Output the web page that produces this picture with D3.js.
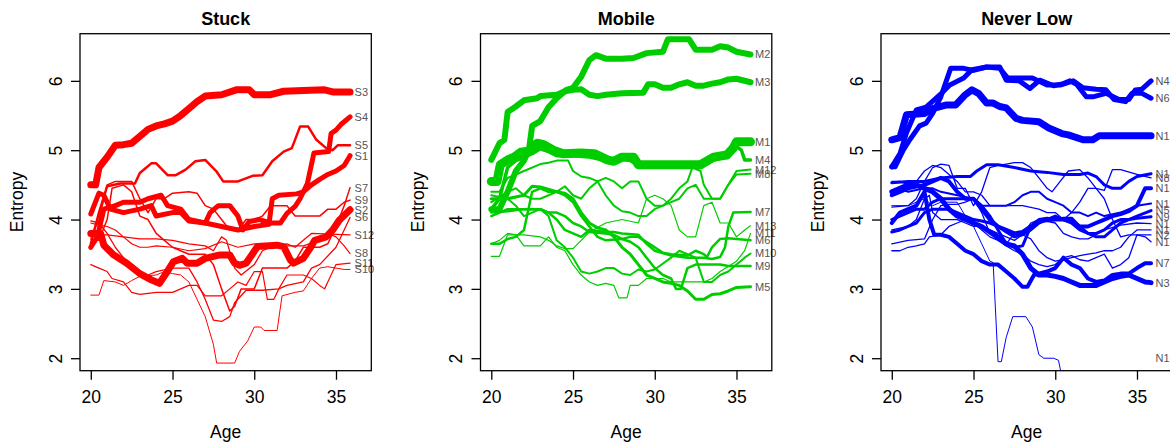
<!DOCTYPE html>
<html lang="en">
<head>
<meta charset="utf-8">
<title>Entropy by age: Stuck, Mobile, Never Low</title>
<script src="https://cdnjs.cloudflare.com/ajax/libs/d3/7.8.5/d3.min.js"></script>
<style>
body { margin: 0; background: #fff; }
text { font-family: "Liberation Sans", Arial, Helvetica, sans-serif; }
</style>
</head>
<body>
<script>
// ---- data -------------------------------------------------------------
var panelTitles = ["Stuck", "Mobile", "Never Low"];
var panelColors = ["#ff0000", "#00cd00", "#0000ff"];
var xTicks = [20, 25, 30, 35];
var yTicks = [2, 3, 4, 5, 6];

// each line: [age, entropy] knots
var stuckNames = ["S1","S2","S3","S4","S5","S6","S7","S8","S9","S10","S11","S12"];
var stuckLwd = [5, 7, 7, 5, 2.5, 1.3, 1.5, 1.2, 1.5, 1, 1.2, 1.3];
var stuckLines = [
  [[20,4.08],[20.5,4.38],[20.8,4.35],[21.2,4.15],[22,4.1],[23,4.15],[23.7,4.2],[24,4.05],[25,4.1],[25.5,4.1],[26,3.98],[27,3.95],[28,3.9],[29,3.85],[30,3.9],[30.9,3.93],[31.1,4.3],[31.5,4.35],[32.6,4.37],[33,4.4],[33.5,4.5],[34,4.58],[34.5,4.65],[35,4.7],[35.5,4.78],[35.86,4.92]],
  [[20,3.8],[20.6,3.8],[20.8,3.63],[21.4,3.49],[22.2,3.37],[23,3.22],[23.7,3.13],[24.2,3.08],[24.6,3.22],[25.05,3.39],[25.6,3.44],[25.9,3.37],[26.5,3.37],[27,3.44],[27.9,3.49],[28.5,3.49],[28.8,3.37],[29.1,3.34],[29.5,3.37],[30.2,3.61],[31.4,3.63],[31.8,3.61],[32.2,3.42],[32.4,3.37],[33,3.44],[33.4,3.58],[33.7,3.7],[34.4,3.75],[34.8,3.85],[35.2,3.99],[35.86,4.14]],
  [[20,4.5],[20.3,4.5],[20.5,4.75],[21,4.9],[21.5,5.07],[22,5.08],[22.5,5.1],[23,5.2],[23.5,5.3],[24,5.35],[24.5,5.38],[25,5.42],[25.5,5.5],[26,5.6],[26.5,5.7],[27,5.78],[28,5.8],[28.9,5.87],[29.7,5.87],[30,5.8],[31,5.8],[31.8,5.85],[33,5.86],[34.3,5.87],[34.8,5.84],[35.86,5.84]],
  [[20,3.6],[20.4,3.75],[20.8,4.15],[21.5,4.2],[22,4.25],[23,4.25],[23.5,4.3],[24.3,4.35],[24.7,4.2],[25.5,4.15],[26,4.0],[27,3.95],[27.3,4.1],[27.8,4.2],[28.5,4.2],[29,4.05],[29.3,3.85],[29.7,3.97],[30.3,4.0],[31,3.95],[31.6,3.95],[32,4.09],[32.5,4.19],[32.8,4.3],[33.25,4.52],[33.65,4.96],[34.55,4.98],[34.7,5.24],[35,5.29],[35.3,5.37],[35.86,5.48]],
  [[20,3.65],[20.5,4.1],[21,4.48],[21.8,4.52],[22.7,4.52],[23,4.67],[23.7,4.81],[24,4.81],[24.7,4.64],[25.2,4.64],[25.8,4.72],[26.4,4.84],[27,4.86],[27.7,4.69],[28.1,4.55],[29,4.55],[29.9,4.63],[30.5,4.64],[31.1,4.84],[31.8,4.98],[32.3,5.03],[32.8,5.34],[33.3,5.34],[33.8,5.15],[34.4,5.03],[34.8,5.0],[35.1,5.07],[35.86,5.07]],
  [[20,3.98],[20.5,3.95],[21,3.8],[21.5,3.6],[22,3.45],[22.5,3.3],[23,3.2],[23.5,3.2],[24,3.25],[25,3.3],[26,3.3],[26.5,3.1],[27,2.85],[27.5,2.55],[28,2.53],[28.5,2.6],[28.8,2.8],[29.5,2.98],[30.5,2.98],[31.5,3.0],[32,3.05],[33,3.1],[33.5,3.3],[34,3.35],[35,3.6],[35.5,3.85],[35.86,4.03]],
  [[20,3.72],[20.5,3.7],[21,4.0],[21.3,4.45],[22,4.5],[22.5,4.4],[23,4.05],[23.5,4.0],[24,3.8],[24.5,3.7],[25,3.6],[26,3.5],[27,3.5],[27.5,3.35],[28,3.0],[28.5,2.68],[28.8,2.75],[29.2,3.0],[30,3.0],[30.5,3.3],[31,3.3],[32,3.3],[32.5,3.4],[33,3.6],[34,3.6],[34.5,3.65],[35,3.9],[35.5,4.2],[35.86,4.46]],
  [[20,3.95],[20.5,3.92],[21,3.9],[21.5,3.85],[22,3.75],[22.5,3.65],[23,3.6],[23.5,3.6],[24,3.62],[25,3.6],[26,3.55],[27,3.58],[28,3.68],[29,3.6],[30,3.65],[31,3.65],[32,3.62],[33,3.62],[34,3.7],[34.5,3.8],[35,3.75],[35.5,3.62],[35.86,3.51]],
  [[20,3.75],[20.5,4.0],[21,4.5],[21.5,4.55],[22.5,4.55],[23,4.3],[23.5,4.1],[24,4.3],[24.5,4.3],[25,4.38],[26,4.4],[26.5,4.38],[27,4.2],[27.5,4.15],[28,4.0],[28.5,3.85],[29,3.85],[29.5,4.0],[30,4.0],[30.5,4.05],[31,4.2],[32,4.2],[32.5,4.05],[33,4.05],[34,4.05],[34.5,4.15],[35,4.15],[35.5,4.25],[35.86,4.28]],
  [[20,2.91],[20.5,2.91],[20.8,3.12],[21.5,3.1],[22,3.05],[22.5,3.12],[23,3.18],[24,3.2],[24.5,3.25],[25,3.22],[25.5,3.2],[26,3.1],[26.5,2.85],[27,2.6],[27.5,2.2],[27.7,1.93],[28.8,1.93],[29.1,2.1],[29.6,2.25],[30,2.45],[30.4,2.45],[30.6,2.4],[31.4,2.4],[31.7,2.9],[32.5,2.95],[33,2.97],[33.5,3.15],[34,3.3],[34.5,3.32],[35,3.3],[35.5,3.28],[35.86,3.28]],
  [[20,3.35],[20.5,3.3],[21,3.25],[21.3,3.15],[22,3.1],[22.5,2.95],[23,2.92],[24,2.95],[25,2.95],[25.5,3.0],[26,3.05],[26.5,3.05],[27,2.9],[28,2.9],[28.5,3.0],[29,3.1],[29.5,3.05],[30,3.25],[30.5,3.25],[30.8,2.85],[31.2,2.85],[31.5,3.0],[32,3.2],[33,3.2],[33.5,3.15],[34,3.05],[34.3,3.0],[34.6,3.15],[35,3.35],[35.86,3.37]],
  [[20,3.78],[21,3.78],[22,3.75],[23,3.72],[24,3.72],[25,3.7],[26,3.65],[27,3.62],[27.5,3.55],[28,3.75],[28.3,3.7],[28.8,3.3],[29.2,3.2],[30,3.35],[30.5,3.55],[31,3.6],[32,3.65],[32.5,3.6],[33,3.7],[33.5,3.8],[35.86,3.78]]
];

var mobileNames = ["M1","M2","M3","M4","M5","M6","M7","M8","M9","M10","M11","M12","M13"];
var mobileLwd = [9, 6, 6, 3.5, 3, 2.5, 2.5, 2, 2.5, 2, 1.2, 2, 1.2];
var mobileLines = [
  [[20,4.55],[20.35,4.55],[20.55,4.79],[21,4.86],[21.4,4.9],[21.8,4.97],[22.4,4.99],[22.8,5.1],[23.2,5.08],[23.8,5.0],[24.4,4.95],[25.5,4.96],[26.3,4.95],[27.1,4.86],[27.5,4.84],[28,4.9],[28.7,4.9],[29,4.79],[30,4.79],[31,4.79],[32,4.79],[32.8,4.79],[33.6,4.9],[34.4,4.93],[34.8,5.03],[35,5.12],[35.86,5.12]],
  [[20,4.15],[20.5,4.15],[21,4.4],[21.5,4.7],[22,4.85],[22.3,5.0],[22.5,5.35],[23,5.42],[23.5,5.62],[24,5.75],[24.6,5.87],[25,5.9],[25.5,6.06],[26,6.3],[26.4,6.37],[27,6.32],[28,6.32],[28.7,6.33],[29.5,6.4],[30.5,6.42],[30.8,6.6],[32.1,6.6],[32.5,6.45],[33.5,6.45],[34,6.5],[34.5,6.48],[35,6.42],[35.86,6.38]],
  [[20,4.86],[20.5,5.1],[20.8,5.15],[21,5.55],[21.5,5.63],[22,5.72],[22.8,5.75],[23,5.78],[24,5.8],[24.5,5.85],[25,5.87],[25.5,5.88],[26,5.8],[26.5,5.78],[27,5.8],[28,5.82],[29.3,5.83],[29.6,5.95],[30,5.95],[30.5,5.9],[31,5.9],[31.5,5.95],[32,5.98],[32.5,5.93],[33,5.93],[33.5,5.96],[34,5.98],[34.5,6.02],[35,6.03],[35.86,5.98]],
  [[20,4.15],[20.5,4.3],[21,4.75],[21.5,4.85],[22,4.9],[22.5,4.95],[23,5.02],[23.5,4.98],[24,4.92],[25,4.92],[26,4.9],[27,4.85],[27.5,4.82],[28,4.88],[28.5,4.85],[29,4.78],[30,4.78],[31,4.78],[32,4.78],[32.8,4.78],[33.5,4.85],[34,4.88],[34.5,4.92],[35,5.05],[35.3,5.0],[35.5,4.86],[35.86,4.86]],
  [[20,4.3],[21,4.3],[22,4.35],[22.5,4.48],[23,4.47],[24,4.4],[24.5,4.38],[25,4.3],[25.5,4.1],[26,3.95],[26.5,3.88],[27,3.85],[27.5,3.75],[28,3.6],[28.5,3.5],[29,3.35],[29.5,3.2],[30,3.15],[30.5,3.1],[31,3.08],[31.5,3.05],[32,2.97],[32.5,2.85],[33,2.85],[33.5,2.92],[34,2.93],[34.5,2.97],[35,3.02],[35.86,3.03]],
  [[20,3.65],[20.5,3.65],[21,3.72],[21.5,3.75],[22,3.85],[22.5,4.4],[23,4.45],[23.5,4.4],[24,4.4],[24.5,4.35],[25,4.25],[25.5,4.05],[26,3.9],[26.5,3.75],[27,3.7],[28,3.72],[28.5,3.75],[29,3.75],[30,3.6],[30.5,3.52],[31,3.5],[32,3.48],[32.5,3.55],[33,3.5],[33.2,3.46],[33.5,3.6],[34,3.72],[34.5,3.73],[35,3.72],[35.86,3.7]],
  [[20,4.05],[20.5,4.1],[21,4.15],[22,4.15],[23,4.15],[23.5,4.1],[24,4.0],[24.5,3.85],[25,3.8],[25.5,3.75],[26,3.85],[27,3.82],[27.5,3.82],[28,3.8],[29,3.78],[29.5,3.65],[30,3.55],[31,3.48],[32,3.45],[33,3.45],[33.5,3.43],[34,3.46],[34.3,3.6],[34.5,3.9],[34.8,4.1],[35.86,4.11]],
  [[20,4.4],[20.5,4.4],[21,4.6],[21.5,4.65],[22,4.7],[23,4.8],[23.5,4.82],[24,4.85],[24.7,4.85],[25,4.7],[25.5,4.62],[26,4.6],[26.5,4.55],[27,4.35],[27.5,4.2],[28,4.12],[28.5,4.1],[29,4.05],[29.5,4.05],[30,4.15],[30.5,4.2],[31,4.25],[31.5,4.3],[32,4.45],[32.5,4.5],[33,4.3],[33.5,4.3],[34,4.3],[34.5,4.5],[35,4.65],[35.86,4.66]],
  [[20,4.1],[21,4.12],[22,4.15],[23,4.15],[23.5,4.1],[24,4.1],[24.5,4.05],[25,3.95],[25.5,3.9],[26,3.82],[27,3.8],[27.5,3.78],[28,3.72],[28.5,3.68],[29,3.6],[29.5,3.45],[30,3.3],[30.5,3.2],[31,3.15],[31.3,3.0],[31.6,3.0],[32,3.3],[32.5,3.35],[33,3.35],[34,3.35],[34.5,3.33],[35,3.33],[35.86,3.33]],
  [[20,4.35],[21,4.3],[21.5,4.2],[22,4.05],[22.5,4.1],[23,4.15],[23.5,4.05],[24,3.7],[24.5,3.6],[25,3.45],[25.5,3.25],[26,3.22],[26.5,3.25],[27,3.3],[27.5,3.3],[28,3.22],[28.5,3.2],[29,3.28],[29.5,3.25],[30,3.28],[31,3.45],[31.5,3.55],[32,3.5],[32.5,3.45],[33,3.1],[33.5,3.1],[34,3.2],[34.5,3.25],[35,3.35],[35.5,3.45],[35.86,3.51]],
  [[20,3.65],[20.5,3.7],[21,3.8],[21.5,3.78],[22,3.62],[23,3.62],[23.5,3.75],[24,3.6],[24.5,3.55],[25,3.35],[25.5,3.2],[26,3.1],[26.5,3.05],[27,3.08],[27.5,3.05],[27.8,2.87],[28.3,2.87],[28.5,3.05],[29,3.05],[29.5,3.15],[30,3.15],[30.5,3.15],[31,3.1],[32,3.1],[32.5,3.1],[33,3.1],[33.5,3.15],[34,3.25],[35,3.4],[35.5,3.55],[35.86,3.8]],
  [[20,4.25],[21,4.4],[21.5,4.45],[22,4.35],[22.5,4.3],[23,4.3],[24,4.4],[24.5,4.48],[25,4.35],[25.5,4.3],[26,4.45],[26.5,4.55],[27,4.6],[27.5,4.55],[28,4.45],[28.5,4.55],[29,4.55],[29.5,4.3],[30,4.2],[30.5,4.2],[31,4.3],[31.5,4.45],[32,4.55],[32.3,4.75],[32.8,4.7],[33,4.5],[33.5,4.3],[34,4.3],[34.5,4.5],[35,4.7],[35.86,4.72]],
  [[20,3.47],[20.5,3.47],[21,3.78],[22,3.78],[23,3.75],[23.5,3.7],[24,3.62],[24.5,3.58],[25,3.58],[25.5,3.7],[26,3.82],[27,3.95],[28,4.0],[29,3.95],[29.5,4.3],[30,4.35],[30.5,4.3],[31,4.2],[31.5,3.85],[32,3.75],[32.5,3.75],[33,4.2],[33.5,4.25],[34,3.95],[34.5,3.95],[35,3.75],[35.5,3.85],[35.86,3.91]]
];

var neverNames = ["N1","N2","N3","N4","N5","N6","N7","N8","N9","N10","N11","N12","N13","N14","N15","N16"];
var neverLwd = [7, 1.3, 5, 5, 3, 5, 4, 1.3, 3, 1.3, 2, 1.3, 1.3, 3, 4, 1];
var neverLines = [
  [[20,5.15],[20.5,5.18],[20.9,5.51],[22,5.53],[22.5,5.6],[23.3,5.65],[23.9,5.65],[24.5,5.8],[24.9,5.87],[25.3,5.82],[25.8,5.68],[26.2,5.68],[26.6,5.63],[27,5.61],[27.6,5.46],[28,5.43],[29,5.41],[29.6,5.32],[30.4,5.24],[30.8,5.22],[31.7,5.15],[32.3,5.15],[32.7,5.21],[35.86,5.21]],
  [[20,4.55],[20.5,4.55],[21,4.5],[21.5,4.55],[22,4.7],[22.5,4.78],[23,4.75],[23.5,4.65],[24,4.55],[24.5,4.4],[25,4.4],[25.5,4.35],[26,4.2],[27,4.2],[28,4.2],[29,4.15],[29.5,4.1],[30,4.1],[30.5,4.0],[31,4.1],[31.5,4.25],[32,4.45],[32.5,4.45],[33,4.3],[33.5,4.0],[34,3.75],[34.5,3.78],[35.86,3.78]],
  [[20,4.4],[20.5,4.45],[21,4.5],[21.5,4.5],[22,4.45],[22.5,4.4],[23,4.3],[23.5,4.15],[24,4.05],[24.5,4.0],[25,3.95],[25.5,3.9],[26,3.82],[26.5,3.75],[27,3.65],[27.5,3.62],[28,3.5],[28.5,3.3],[29,3.2],[29.5,3.2],[30,3.18],[30.5,3.15],[31,3.1],[31.5,3.05],[32,3.05],[32.5,3.05],[33,3.1],[33.5,3.15],[34,3.18],[34.5,3.2],[35,3.15],[35.5,3.1],[35.86,3.09]],
  [[20,4.76],[20.2,4.76],[20.7,5.0],[21.1,5.15],[21.7,5.35],[22.1,5.39],[22.5,5.53],[23,5.77],[23.6,6.18],[24.4,6.18],[25,6.15],[25.8,6.2],[26.6,6.2],[27,6.01],[27.8,6.0],[28.45,5.89],[29.05,6.01],[29.9,5.93],[30.5,5.96],[30.9,6.0],[31.3,5.95],[31.9,5.77],[32.3,5.77],[33.1,5.82],[33.9,5.73],[34.5,5.73],[34.9,5.87],[35.3,5.88],[35.86,6.0]],
  [[20,4.0],[20.5,4.05],[21,4.1],[21.5,4.15],[22,4.15],[22.5,4.25],[23,4.3],[23.5,4.3],[24,4.3],[25,4.3],[25.5,4.2],[26,4.05],[26.5,3.85],[27,3.65],[27.5,3.6],[28,3.62],[28.5,3.9],[29,4.0],[29.5,4.02],[30,4.0],[30.5,4.02],[31,4.02],[31.5,3.9],[32,3.8],[32.5,3.8],[33,3.85],[33.5,3.95],[34,4.0],[34.5,4.0],[35,4.05],[35.86,4.13]],
  [[20,4.76],[20.5,4.95],[20.9,5.25],[21.5,5.58],[22.1,5.62],[22.95,5.8],[23.55,5.94],[24.4,6.04],[24.9,6.16],[25.8,6.2],[26.6,6.18],[27.1,6.04],[27.6,6.04],[28.6,6.04],[29.5,5.94],[30.3,5.94],[31.1,6.0],[31.7,5.9],[32.5,5.88],[33.1,5.87],[33.6,5.73],[34.3,5.7],[34.7,5.82],[35.3,5.82],[35.86,5.75]],
  [[20,3.95],[20.5,4.1],[21,4.15],[21.5,4.2],[22,4.4],[22.3,4.0],[22.6,3.78],[23,3.78],[23.5,3.75],[24,3.65],[24.5,3.55],[25,3.5],[25.5,3.4],[26,3.35],[26.5,3.35],[27,3.25],[27.5,3.15],[28,3.03],[28.3,3.03],[28.7,3.2],[29.5,3.25],[30,3.3],[30.5,3.45],[31,3.35],[31.5,3.3],[32,3.15],[32.5,3.1],[33,3.12],[33.5,3.2],[34,3.22],[34.5,3.22],[35,3.3],[35.5,3.37],[35.86,3.37]],
  [[20,4.18],[21,4.2],[21.5,4.3],[22,4.55],[22.5,4.75],[23,4.8],[23.5,4.78],[24,4.45],[24.5,4.45],[25,4.2],[25.5,4.4],[26,4.75],[26.5,4.78],[27,4.8],[27.5,4.82],[28,4.82],[28.5,4.75],[29,4.6],[29.5,4.45],[29.8,4.4],[30.3,4.55],[30.8,4.7],[31.5,4.72],[32,4.6],[32.5,4.45],[33,4.42],[33.5,4.72],[34,4.72],[35,4.65],[35.86,4.6]],
  [[20,3.82],[20.5,3.85],[21,3.9],[21.5,3.95],[22,4.1],[22.5,4.15],[23,4.15],[23.5,4.15],[24,4.1],[24.5,4.05],[25,4.0],[25.5,3.98],[26,3.95],[26.5,3.9],[27,3.82],[27.5,3.75],[28,3.78],[28.5,3.85],[29,3.95],[29.5,4.0],[30,4.05],[30.5,4.0],[31,3.95],[31.5,3.85],[32,3.8],[32.5,3.75],[33,3.75],[33.5,3.85],[34,3.95],[34.5,4.0],[35,4.02],[35.86,4.04]],
  [[20,3.65],[21,3.7],[22,3.72],[22.5,4.0],[23,4.2],[23.5,4.22],[24,4.22],[24.5,4.25],[25,4.3],[25.5,4.1],[26,3.8],[26.5,3.7],[27,3.65],[27.5,3.8],[28,3.78],[28.5,3.72],[29,3.55],[29.5,3.45],[30,3.4],[30.5,3.42],[31,3.45],[31.5,3.48],[32,3.5],[32.5,3.52],[33,3.55],[33.5,3.55],[34,3.6],[34.5,3.75],[35,3.85],[35.86,3.85]],
  [[20,4.4],[20.5,4.45],[21,4.4],[22,4.45],[22.5,4.45],[23,4.4],[24,4.35],[25,4.3],[25.5,4.2],[26,4.2],[27,4.2],[27.5,4.25],[28,4.35],[28.5,4.4],[29,4.4],[29.5,4.3],[30,4.25],[30.5,4.2],[31,4.1],[31.5,4.1],[32,4.05],[32.5,4.1],[33,4.05],[34,4.1],[34.5,4.15],[35,4.2],[35.86,4.23]],
  [[20,3.85],[21,3.9],[21.5,4.0],[22,4.3],[22.3,4.35],[22.5,4.1],[23,4.0],[24,4.0],[24.5,3.95],[25,3.9],[25.5,3.9],[26,3.85],[26.5,3.8],[27,3.75],[27.5,3.7],[28,3.78],[28.5,3.95],[29,4.0],[30,3.95],[30.5,3.8],[31,3.75],[31.5,3.72],[32,3.72],[32.5,3.78],[33,3.85],[34,3.92],[35,3.95],[35.86,3.94]],
  [[20,3.55],[20.5,3.55],[21,3.6],[21.5,3.62],[22,3.65],[22.3,3.75],[23,3.78],[23.5,3.9],[24,3.95],[24.5,4.0],[25,3.95],[25.5,3.85],[26,3.75],[26.5,3.7],[27,3.62],[27.5,3.55],[28,3.5],[28.5,3.4],[29,3.35],[29.5,3.32],[30,3.35],[30.5,3.45],[31,3.48],[31.5,3.42],[32,3.4],[32.5,3.45],[33,3.5],[33.5,3.3],[34,3.35],[34.5,3.45],[35,3.78],[35.5,3.75],[35.86,3.68]],
  [[20,4.53],[21,4.55],[22,4.55],[23,4.6],[24,4.62],[24.8,4.62],[25.2,4.7],[25.8,4.79],[26.5,4.79],[27.5,4.75],[28.5,4.7],[29.5,4.68],[30.5,4.65],[31.5,4.65],[32,4.67],[32.5,4.62],[33,4.5],[33.5,4.45],[34,4.45],[34.5,4.55],[35,4.62],[35.86,4.66]],
  [[20,4.35],[20.5,4.4],[21,4.45],[22,4.5],[22.5,4.55],[23,4.6],[23.5,4.55],[24,4.4],[24.5,4.3],[25,4.3],[25.5,4.15],[26,4.0],[26.5,3.9],[27,3.85],[27.5,3.8],[28,3.82],[28.5,3.9],[29,3.98],[30,4.0],[30.5,4.0],[31,3.97],[31.5,3.9],[32,3.9],[32.5,3.95],[33,4.0],[33.5,4.05],[34,4.08],[34.5,4.12],[35,4.2],[35.5,4.45],[35.86,4.45]],
  [[20,4.2],[21,4.2],[21.5,4.25],[22,4.3],[22.5,4.2],[23,4.25],[24,4.25],[24.5,4.05],[25,3.9],[25.5,3.65],[26,3.4],[26.2,3.38],[26.5,1.95],[26.7,1.95],[27,2.3],[27.4,2.6],[28.2,2.6],[28.6,2.45],[29,2.05],[29.3,2.0],[29.9,2.0],[30.2,1.97],[30.6,1.5],[35.86,1.5]]
];

// ---- layout -----------------------------------------------------------
var W = 1170, H = 445;
var panelStep = 400.5;
var plotLeft = 80, plotTop = 33.7, plotW = 291.3, plotH = 337;

var panels = [
  {title: panelTitles[0], color: panelColors[0], names: stuckNames, lwd: stuckLwd, lines: stuckLines},
  {title: panelTitles[1], color: panelColors[1], names: mobileNames, lwd: mobileLwd, lines: mobileLines},
  {title: panelTitles[2], color: panelColors[2], names: neverNames, lwd: neverLwd, lines: neverLines}
];

var xScale = d3.scaleLinear().domain([19.34, 37.16]).range([0, plotW]);
var yScale = d3.scaleLinear().domain([1.82, 6.68]).range([plotH, 0]);
var wScale = d3.scaleLinear().domain([1, 9]).range([1, 9]);

var line = d3.line()
    .x(function(d) { return xScale(d[0]); })
    .y(function(d) { return yScale(d[1]); });

var svg = d3.select("body").append("svg")
    .attr("width", W)
    .attr("height", H);

panels.forEach(function(p, i) {
    var g = svg.append("g")
        .attr("transform", "translate(" + (plotLeft + i * panelStep) + "," + plotTop + ")");

    g.append("clipPath").attr("id", "clip" + i)
      .append("rect").attr("width", plotW).attr("height", plotH);

    var series = p.lines.map(function(pts, k) {
        return {name: p.names[k], lwd: p.lwd[k], pts: pts};
    });
    var order = series.slice().sort(function(a, b) { return a.lwd - b.lwd; });

    g.append("g").attr("clip-path", "url(#clip" + i + ")")
      .selectAll("path")
      .data(order)
      .enter().append("path")
        .attr("d", function(d) { return line(d.pts); })
        .attr("fill", "none")
        .attr("stroke", p.color)
        .attr("stroke-width", function(d) { return wScale(d.lwd); })
        .attr("stroke-linecap", "round")
        .attr("stroke-linejoin", "round");

    // end labels
    g.selectAll("text.lab")
      .data(series)
      .enter().append("text")
        .attr("class", "lab")
        .attr("x", function(d) { return xScale(d.pts[d.pts.length - 1][0]) + 4.5; })
        .attr("y", function(d) { return yScale(Math.max(d.pts[d.pts.length - 1][1], 2)); })
        .attr("dy", "0.36em")
        .attr("font-size", 11)
        .attr("fill", "#555")
        .text(function(d) { return d.name; });

    // box
    g.append("rect")
        .attr("width", plotW).attr("height", plotH)
        .attr("fill", "none").attr("stroke", "#000").attr("stroke-width", 1.3);

    // axes
    var xAxis = d3.axisBottom(xScale).tickValues(xTicks).tickSize(9).tickPadding(10.6);
    var gx = g.append("g").attr("transform", "translate(0," + plotH + ")").call(xAxis);
    gx.select(".domain").remove();
    gx.selectAll("line").attr("stroke-width", 1.3);
    gx.selectAll("text").attr("font-size", 17.5).attr("font-family", null).attr("fill", "#000");

    var yAxis = d3.axisLeft(yScale).tickValues(yTicks).tickSize(9).tickFormat(d3.format("d"));
    var gy = g.append("g").call(yAxis);
    gy.select(".domain").remove();
    gy.selectAll("line").attr("stroke-width", 1.3);
    gy.selectAll("text")
        .attr("font-size", 17.5).attr("font-family", null).attr("fill", "#000")
        .attr("text-anchor", "middle")
        .attr("transform", "rotate(-90)")
        .attr("x", 0).attr("y", -18.5).attr("dy", 0);

    // titles
    g.append("text")
        .attr("x", plotW / 2).attr("y", 25 - plotTop)
        .attr("text-anchor", "middle")
        .attr("font-size", 18).attr("font-weight", "bold")
        .text(p.title);

    g.append("text")
        .attr("x", plotW / 2).attr("y", 438 - plotTop)
        .attr("text-anchor", "middle")
        .attr("font-size", 17.5)
        .text("Age");

    g.append("text")
        .attr("transform", "translate(" + (23 - plotLeft) + "," + (202 - plotTop) + ") rotate(-90)")
        .attr("text-anchor", "middle")
        .attr("font-size", 17.5)
        .text("Entropy");
});
</script>
</body>
</html>
